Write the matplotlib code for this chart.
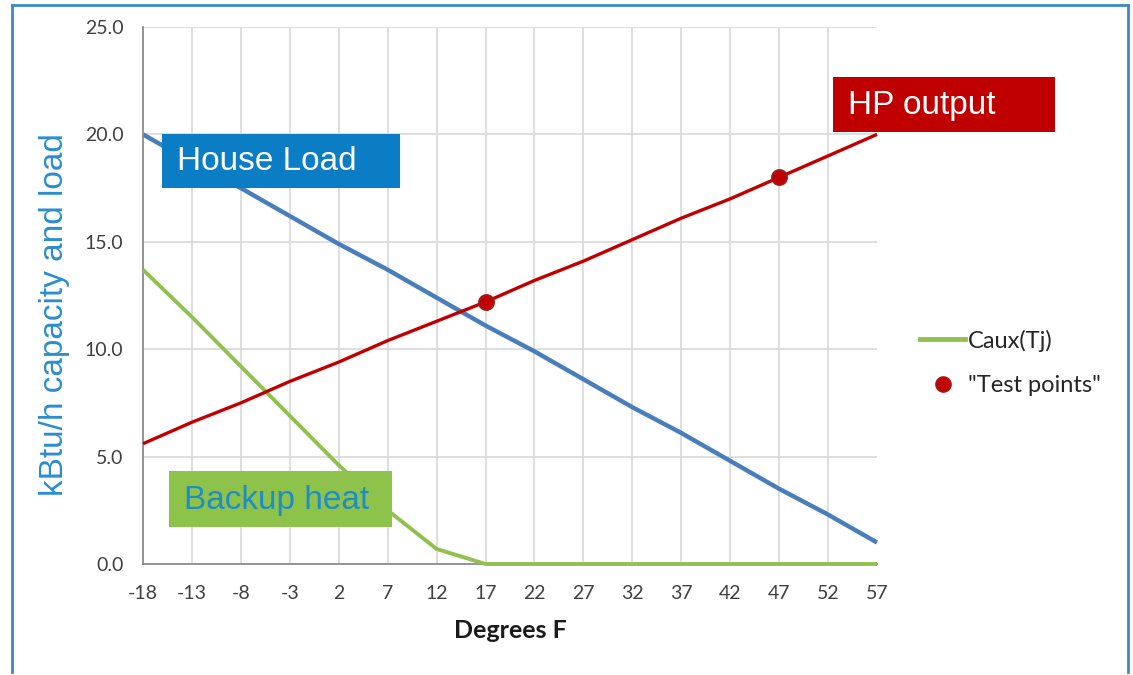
import matplotlib
matplotlib.use("Agg")
import matplotlib.pyplot as plt
from matplotlib.patches import Rectangle
from matplotlib.lines import Line2D

# ---- data ----
temps = [-18, -13, -8, -3, 2, 7, 12, 17, 22, 27, 32, 37, 42, 47, 52, 57]
house_load = [20.0, 18.7, 17.5, 16.2, 14.9, 13.7, 12.4, 11.1, 9.9, 8.6, 7.3, 6.1, 4.8, 3.5, 2.3, 1.0]
hp_output = [5.6, 6.6, 7.5, 8.5, 9.4, 10.4, 11.3, 12.2, 13.2, 14.1, 15.1, 16.1, 17.0, 18.0, 19.0, 20.0]
caux = [13.7, 11.5, 9.2, 6.9, 4.6, 2.5, 0.7, 0.0, 0.0, 0.0, 0.0, 0.0, 0.0, 0.0, 0.0, 0.0]
test_temps = [17, 47]
test_values = [12.2, 18.0]
y_ticks = [0.0, 5.0, 10.0, 15.0, 20.0, 25.0]

W, H = 1133, 675
fig = plt.figure(figsize=(W / 100, H / 100), dpi=100)
fig.patch.set_facecolor("white")

def fx(px):
    return px / W

def fy(py):
    return 1 - py / H

ax = fig.add_axes([fx(143), fy(564), fx(877) - fx(143), fy(27) - fy(564)])
ax.set_xlim(-18, 57)
ax.set_ylim(0, 25)
ax.set_xticks(temps)
ax.set_xticklabels([str(t) for t in temps])
ax.set_yticks(y_ticks)
ax.set_yticklabels([f"{v:.1f}" for v in y_ticks])
ax.tick_params(length=0, labelsize=14, colors="#404040")
ax.tick_params(axis="x", pad=15)
ax.tick_params(axis="y", pad=14)
for lab in ax.get_xticklabels() + ax.get_yticklabels():
    lab.set_fontfamily("Lato")
ax.grid(True, color="#D9D9D9", linewidth=1.2)
ax.set_axisbelow(True)
xgl = ax.get_xgridlines()
xgl[-1].set_visible(False)
for s in ["top", "right"]:
    ax.spines[s].set_visible(False)
for s in ["left", "bottom"]:
    ax.spines[s].set_color("#8C8C8C")
    ax.spines[s].set_linewidth(1.3)

ax.plot(temps, house_load, color="#4A7EBB", linewidth=3.2, solid_capstyle="butt", clip_on=False)
ax.plot(temps, caux, color="#92C050", linewidth=2.8, solid_capstyle="butt", clip_on=False, zorder=3)
ax.plot(temps, hp_output, color="#C00000", linewidth=2.4, solid_capstyle="butt", clip_on=False, zorder=4)
ax.plot(test_temps, test_values, linestyle="none", marker="o", markersize=11,
        markerfacecolor="#C00000", markeredgecolor="#9B2020", markeredgewidth=1.2, zorder=5)

fig.text(fx(510), fy(631), "Degrees F", ha="center", va="center", fontsize=18,
         fontweight="bold", fontfamily="Lato", color="#1A1A1A")

fig.text(fx(55), fy(315), "kBtu/h capacity and load", rotation=90, ha="center", va="center",
         fontsize=24, color="#2B8DCF", fontfamily="Liberation Sans")

# legend
handles = [Line2D([], [], color="#92C050", linewidth=3.5),
           Line2D([], [], linestyle="none", marker="o", markersize=11,
                  markerfacecolor="#C00000", markeredgecolor="#9B2020")]
leg = fig.legend(handles, ["Caux(Tj)", "\"Test points\""], loc="center left",
                 bbox_to_anchor=(fx(899), fy(363)), frameon=False,
                 handlelength=1.9, handletextpad=0.12, labelspacing=1.0,
                 prop={"family": "Lato", "size": 17})
for t in leg.get_texts():
    t.set_color("#262626")

# label boxes
def label_box(x0, y0, x1, y1, color, text, tcolor):
    fig.patches.append(Rectangle((fx(x0), fy(y1)), fx(x1) - fx(x0), fy(y0) - fy(y1),
                                 transform=fig.transFigure, facecolor=color, edgecolor="none", zorder=10))
    fig.text(fx(x0 + 15), fy((y0 + y1) / 2 + 1), text, ha="left", va="center", fontsize=24,
             color=tcolor, fontfamily="Liberation Sans", zorder=11)

label_box(162, 134, 400, 188, "#0B7DC4", "House Load", "white")
label_box(833, 77, 1055, 132, "#C00000", "HP output", "white")
label_box(169, 471, 392, 527, "#8DC34A", "Backup heat", "#1F8CC8")

# outer frame
frame_color = "#3C88C8"
fig.lines.append(Line2D([fx(12), fx(12)], [fy(672), fy(5)], transform=fig.transFigure, color=frame_color, linewidth=2))
fig.lines.append(Line2D([fx(12), fx(1128)], [fy(5), fy(5)], transform=fig.transFigure, color=frame_color, linewidth=2))
fig.lines.append(Line2D([fx(1128), fx(1128)], [fy(5), fy(672)], transform=fig.transFigure, color=frame_color, linewidth=2))

fig.savefig("out.png", dpi=100, facecolor="white")
